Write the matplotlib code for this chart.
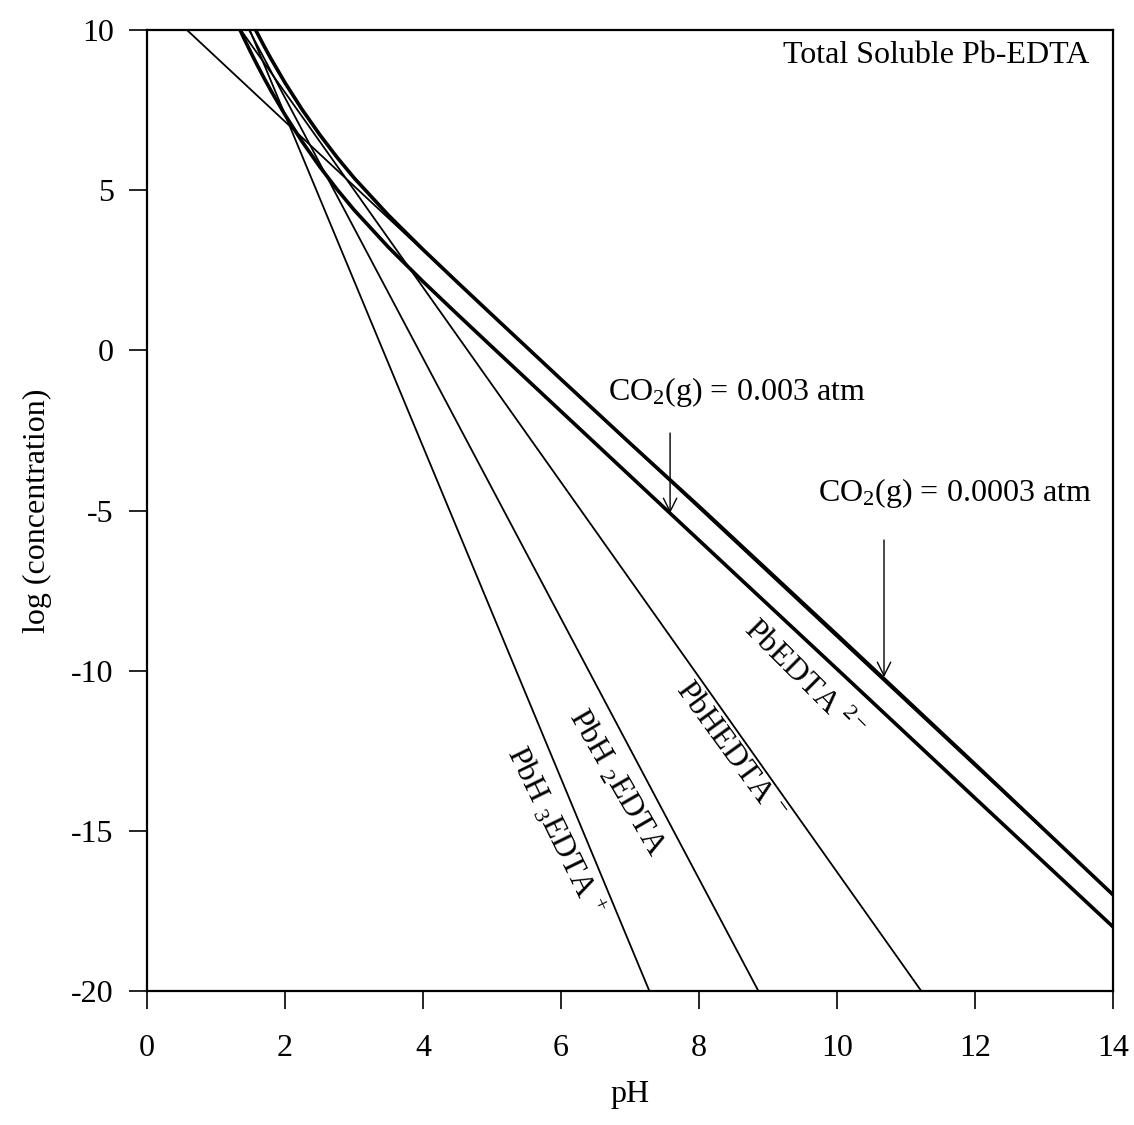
import numpy as np
import matplotlib
matplotlib.use('Agg')
import matplotlib.pyplot as plt

plt.rcParams['font.family'] = ['Liberation Serif', 'DejaVu Serif']
plt.rcParams['mathtext.fontset'] = 'custom'
plt.rcParams['mathtext.rm'] = 'Liberation Serif'
plt.rcParams['mathtext.it'] = 'Liberation Serif:italic'
plt.rcParams['axes.unicode_minus'] = False

# species lines (straight)
pbedta_ph = [0.58, 14.0]
pbedta_log = [10.0, -17.0]
pbhedta_ph = [1.36, 11.22]
pbhedta_log = [10.0, -20.0]
pbh2edta_ph = [1.48, 8.86]
pbh2edta_log = [10.0, -20.0]
pbh3edta_ph = [1.49, 7.28]
pbh3edta_log = [10.0, -20.0]

# total soluble Pb-EDTA, CO2(g) = 0.0003 atm
tot_low_ph = [1.575, 1.6, 1.7, 1.8, 2.0, 2.25, 2.5, 2.75, 3.0, 3.5, 4.0, 4.5, 5.0, 6.0, 7.0, 8.0, 10.0, 12.0, 14.0]
tot_low_log = [10.0, 9.897, 9.487, 9.094, 8.355, 7.512, 6.744, 6.038, 5.387, 4.217, 3.149, 2.122, 1.110,
               -0.904, -2.90, -4.87, -8.88, -12.92, -17.0]

# total soluble Pb-EDTA, CO2(g) = 0.003 atm
tot_high_ph = [1.35, 1.4, 1.5, 1.55, 1.6, 1.7, 1.8, 2.0, 2.25, 2.5, 2.75, 3.0, 3.5, 4.0, 4.5, 5.0, 6.0, 7.0, 8.0, 10.0, 12.0, 14.0]
tot_high_log = [10.0, 9.764, 9.323, 9.108, 8.897, 8.487, 8.094, 7.355, 6.512, 5.744, 5.038, 4.387, 3.217, 2.149,
                1.122, 0.110, -1.904, -3.917, -5.93, -9.95, -13.98, -18.0]

xticks = [0, 2, 4, 6, 8, 10, 12, 14]
yticks = [10, 5, 0, -5, -10, -15, -20]

fs = 23

fig = plt.figure(figsize=(11.34, 11.25), dpi=100)
ax = fig.add_axes([0.1296, 0.1191, 0.852, 0.8542])

thin = 1.3
thick = 2.6
ax.plot(pbedta_ph, pbedta_log, color='black', lw=thin)
ax.plot(pbhedta_ph, pbhedta_log, color='black', lw=thin)
ax.plot(pbh2edta_ph, pbh2edta_log, color='black', lw=thin)
ax.plot(pbh3edta_ph, pbh3edta_log, color='black', lw=thin)
ax.plot(tot_low_ph, tot_low_log, color='black', lw=thick)
ax.plot(tot_high_ph, tot_high_log, color='black', lw=thick)

ax.set_xlim(0, 14)
ax.set_ylim(-20, 10)
ax.set_xticks(xticks)
ax.set_yticks(yticks)
ax.tick_params(direction='out', length=13, width=1.2, labelsize=fs)
ax.tick_params(axis='y', pad=11)
ax.tick_params(axis='x', pad=18)
for s in ax.spines.values():
    s.set_linewidth(1.6)

ax.set_xlabel('pH', fontsize=fs, labelpad=12)
ax.set_ylabel('log (concentration)', fontsize=fs, labelpad=14)

ax.text(13.66, 9.2, 'Total Soluble Pb-EDTA', fontsize=fs, ha='right', va='center')

# species labels along the lines
ax.text(9.5, -10.3, 'PbEDTA $^{2-}$', fontsize=fs, rotation=-45, ha='center', va='center',
        rotation_mode='anchor')
ax.text(8.45, -12.5, 'PbHEDTA $^{-}$', fontsize=fs, rotation=-54, ha='center', va='center',
        rotation_mode='anchor')
ax.text(6.81, -13.5, 'PbH $_2$EDTA', fontsize=fs, rotation=-60, ha='center', va='center',
        rotation_mode='anchor')
ax.text(5.91, -15.0, 'PbH $_3$EDTA $^{+}$', fontsize=fs, rotation=-64, ha='center', va='center',
        rotation_mode='anchor')

# CO2 annotations
ax.text(8.55, -1.3, 'CO$_2$(g) = 0.003 atm', fontsize=fs, ha='center', va='center')
ax.text(11.7, -4.45, 'CO$_2$(g) = 0.0003 atm', fontsize=fs, ha='center', va='center')
arrow = dict(arrowstyle='->', color='black', lw=1.0, mutation_scale=24, shrinkA=0, shrinkB=0)
ax.annotate('', xy=(7.58, -5.08), xytext=(7.58, -2.58), arrowprops=arrow)
ax.annotate('', xy=(10.68, -10.2), xytext=(10.68, -5.92), arrowprops=arrow)

fig.savefig('out.png', dpi=100)
